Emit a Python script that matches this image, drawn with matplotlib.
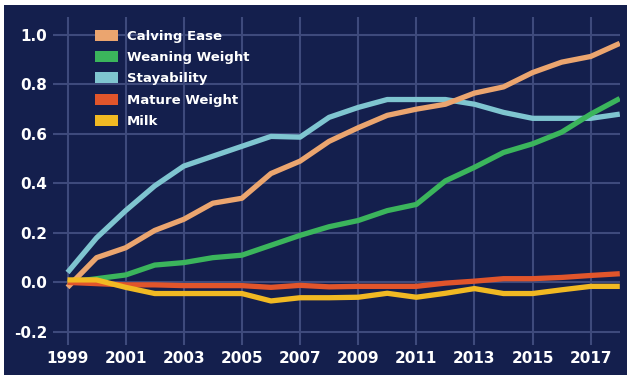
import matplotlib
matplotlib.use("Agg")
import matplotlib.pyplot as plt
from matplotlib.patches import Patch, Rectangle

# Data

years = list(range(1999, 2019))

calving_ease = [-0.02, 0.10, 0.14, 0.21, 0.255, 0.32, 0.34, 0.44, 0.49, 0.57, 0.625,
                0.675, 0.70, 0.72, 0.765, 0.79, 0.848, 0.89, 0.913, 0.966]
weaning_weight = [0.0, 0.015, 0.03, 0.07, 0.08, 0.10, 0.11, 0.15, 0.19, 0.225, 0.25,
                  0.29, 0.315, 0.41, 0.465, 0.525, 0.56, 0.607, 0.68, 0.743]
stayability = [0.04, 0.18, 0.29, 0.39, 0.47, 0.51, 0.55, 0.59, 0.587, 0.667, 0.707,
               0.739, 0.739, 0.739, 0.72, 0.687, 0.663, 0.663, 0.663, 0.68]
mature_weight = [0.0, -0.005, -0.01, -0.01, -0.013, -0.013, -0.013, -0.02, -0.012, -0.018, -0.016,
                 -0.016, -0.016, -0.003, 0.005, 0.015, 0.015, 0.02, 0.028, 0.035]
milk = [0.01, 0.01, -0.02, -0.045, -0.045, -0.045, -0.045, -0.075, -0.062, -0.062, -0.06,
        -0.044, -0.06, -0.044, -0.025, -0.045, -0.045, -0.03, -0.016, -0.016]

series_names = ["Calving Ease", "Weaning Weight", "Stayability", "Mature Weight", "Milk"]
series_values = [calving_ease, weaning_weight, stayability, mature_weight, milk]
series_colors = ["#eba56f", "#3bb55c", "#7fc5d0", "#e1552b", "#f1b923"]

x_ticks = list(range(1999, 2018, 2))
y_ticks = [-0.2, 0.0, 0.2, 0.4, 0.6, 0.8, 1.0]

navy = "#141f4d"
grid_color = "#3e4a7c"

# Plot:

fig = plt.figure(figsize=(6.27, 3.75), dpi=100)
fig.patch.set_facecolor(navy)

# white strip along the top and left edge
fig.patches.append(Rectangle((0, 0.987), 1, 0.02, transform=fig.transFigure,
                             facecolor="white", edgecolor="none", zorder=0))
fig.patches.append(Rectangle((0, 0), 0.007, 1, transform=fig.transFigure,
                             facecolor="white", edgecolor="none", zorder=0))

ax = fig.add_axes([0.0845, 0.08, 0.904, 0.875])
ax.set_facecolor(navy)

# Draw order: teal under the others, milk on top
order = [2, 0, 1, 3, 4]
for i in order:
    ax.plot(years, series_values[i], color=series_colors[i], linewidth=3.8,
            solid_capstyle="butt", solid_joinstyle="round", zorder=3 + order.index(i))

ax.set_xlim(1998.5, 2018)
ax.set_ylim(-0.253, 1.073)
ax.set_xticks(x_ticks)
ax.set_yticks(y_ticks)
ax.set_yticklabels([f"{v:.1f}" for v in y_ticks])

ax.grid(True, color=grid_color, linewidth=1.5, zorder=1)
ax.set_axisbelow(True)

for spine in ax.spines.values():
    spine.set_visible(False)

ax.tick_params(length=0, colors="white", labelsize=11, pad=4)
for label in ax.get_xticklabels() + ax.get_yticklabels():
    label.set_fontweight("bold")

handles = [Patch(facecolor=c, edgecolor="none") for c in series_colors]
leg = ax.legend(handles, series_names, loc="upper left", bbox_to_anchor=(0.065, 0.976),
                frameon=False, fontsize=9.5, labelspacing=0.62, handlelength=1.7,
                handleheight=0.9, handletextpad=0.7, borderaxespad=0)
for text in leg.get_texts():
    text.set_color("white")
    text.set_fontweight("bold")

# Save:

plt.savefig("out.png", dpi=100, facecolor=fig.get_facecolor())
plt.close()
